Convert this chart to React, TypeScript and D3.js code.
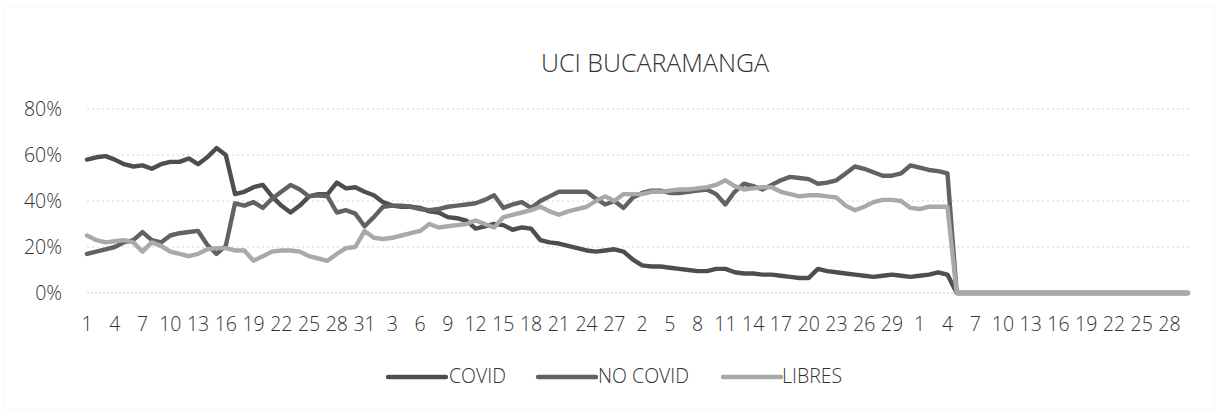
import React from "react";
import * as d3 from "d3";

const TITLE = "UCI BUCARAMANGA";

// day-of-month categories: Jan (31), Feb (28), Mar (31), Apr (30)
const days: number[] = [
  1,2,3,4,5,6,7,8,9,10,11,12,13,14,15,16,17,18,19,20,21,22,23,24,25,26,27,28,29,30,31,
  1,2,3,4,5,6,7,8,9,10,11,12,13,14,15,16,17,18,19,20,21,22,23,24,25,26,27,28,
  1,2,3,4,5,6,7,8,9,10,11,12,13,14,15,16,17,18,19,20,21,22,23,24,25,26,27,28,29,30,31,
  1,2,3,4,5,6,7,8,9,10,11,12,13,14,15,16,17,18,19,20,21,22,23,24,25,26,27,28,29,30,
];

const covid: number[] = [
  58,59,59.5,58,56,55,55.5,54,56,57,57,58.5,56,59,63,60,43,44,46,47,42,38,35,38,42,43,43,48,45.5,46,44,
  42.5,39.5,38,37.5,37.5,37,35.5,35,33,32.5,31.5,28,29,30,29.5,27.5,28.5,28,23,22,21.5,20.5,19.5,18.5,18,18.5,19,18,
  14.5,12,11.5,11.5,11,10.5,10,9.5,9.5,10.5,10.5,9,8.5,8.5,8,8,7.5,7,6.5,6.5,10.5,9.5,9,8.5,8,7.5,7,7.5,8,7.5,7,
  7.5,8,9,8,0,0,0,0,0,0,0,0,0,0,0,0,0,0,0,0,0,0,0,0,0,0,0,0,0,0,
];

const noCovid: number[] = [
  17,18,19,20,22,23,26.5,23,22,25,26,26.5,27,21,17,20.5,39,38,39.5,37,41,44,47,45,42,42.5,42,35,36,34.5,29,
  33,37.5,38,38,37.5,36.5,36,36.5,37.5,38,38.5,39,40.5,42.5,37,38.5,39.5,37,40,42,44,44,44,44,41,38.5,40,37,
  41.5,43.5,44.5,44.5,43.5,43.5,44,44.5,45,43,38.5,44,47.5,46.5,45,47,49,50.5,50,49.5,47.5,48,49,52,55,54,52.5,51,51,52,55.5,
  54.5,53.5,53,52,0,0,0,0,0,0,0,0,0,0,0,0,0,0,0,0,0,0,0,0,0,0,0,0,0,0,
];

const libres: number[] = [
  25,23,22,22.5,23,22,18,22,20.5,18,17,16,17,19,19.5,19.5,18.5,18.5,14,16,18,18.5,18.5,18,16,15,14,17,19.5,20,27,
  24,23.5,24,25,26,27,30,28.5,29,29.5,30,31.5,30,28.5,33,34,35,36,37.5,35.5,34,35.5,36.5,37.5,40,42,40,43,
  43,43,44,44,44.5,45,45,45.5,46,47,49,46.5,45,45.5,46,46,44,43,42,42.5,42.5,42,41.5,38,36,37.5,39.5,40.5,40.5,40,37,
  36.5,37.5,37.5,37.5,0,0,0,0,0,0,0,0,0,0,0,0,0,0,0,0,0,0,0,0,0,0,0,0,0,0,
];

const yTicks: number[] = [0, 20, 40, 60, 80];

const seriesNames = ["COVID", "NO COVID", "LIBRES"];
const seriesColors = ["#4e4e4e", "#626262", "#a9a9a9"];

const W = 1215;
const H = 411;
const FONT = "'Open Sans', 'Noto Sans', sans-serif";
const TEXT = "#333333";

export default function App() {
  const idx = days.map((_, i) => i);
  const x = d3.scalePoint<number>().domain(idx).range([87, 1188]);
  const y = d3.scaleLinear().domain([0, 80]).range([293, 109]);
  const line = d3
    .line<number>()
    .x((_, i) => x(i) as number)
    .y((v) => y(v));
  const allSeries = [covid, noCovid, libres];

  const legendItems = [
    { mx: 388, tx: 449 },
    { mx: 538, tx: 598 },
    { mx: 723, tx: 782 },
  ];

  return (
    <svg
      width={W}
      height={H}
      style={{ position: "absolute", left: 0, top: 0, display: "block", background: "#fff" }}
      fontFamily={FONT}
      fontWeight={300}
    >
      <rect x={3.5} y={6.5} width={W - 4} height={H - 8} fill="none" stroke="#e2e2e2" strokeDasharray="1,3" />
      <text x={655} y={72} textAnchor="middle" fontSize={25} fill={TEXT}>
        {TITLE}
      </text>
      {yTicks.map((t) => (
        <g key={t}>
          <line
            x1={87}
            x2={1190}
            y1={y(t)}
            y2={y(t)}
            stroke={t === 0 ? "#c8c8c8" : "#d4d4d4"}
            strokeWidth={1}
            strokeDasharray={t === 0 ? "2,2" : "2,3"}
          />
          <text x={62} y={y(t) + 2} textAnchor="end" dominantBaseline="middle" fontSize={19.5} fill={TEXT}>
            {t + "%"}
          </text>
        </g>
      ))}
      {days.map((d, i) =>
        i % 3 === 0 ? (
          <text key={i} x={x(i)} y={331} textAnchor="middle" fontSize={19.5} fill={TEXT}>
            {d}
          </text>
        ) : null
      )}
      {allSeries.map((s, k) => (
        <path
          key={k}
          d={line(s) || ""}
          fill="none"
          stroke={seriesColors[k]}
          strokeWidth={4.4}
          strokeLinejoin="round"
          strokeLinecap="round"
        />
      ))}
      {seriesNames.map((n, k) => (
        <g key={n}>
          <line
            x1={legendItems[k].mx}
            x2={legendItems[k].mx + 58}
            y1={377}
            y2={377}
            stroke={seriesColors[k]}
            strokeWidth={4.4}
            strokeLinecap="round"
          />
          <text x={legendItems[k].tx} y={378} dominantBaseline="middle" fontSize={19.5} fill={TEXT}>
            {n}
          </text>
        </g>
      ))}
    </svg>
  );
}
